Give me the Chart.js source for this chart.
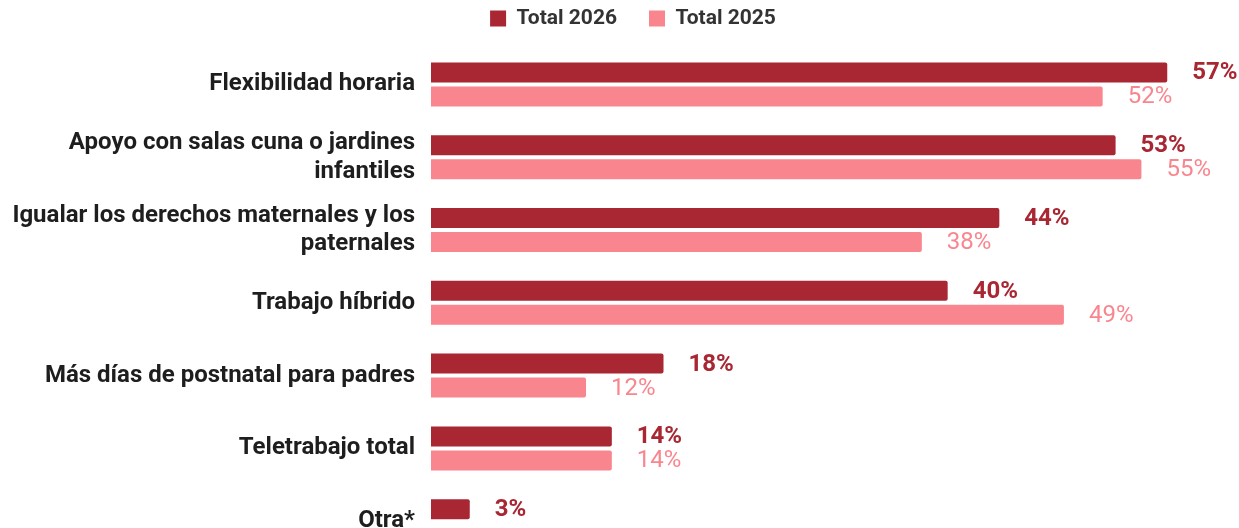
<!DOCTYPE html>
<html>
<head>
<meta charset="utf-8">
<script src="https://cdn.jsdelivr.net/npm/chart.js@4.4.1/dist/chart.umd.min.js"></script>
<style>
  html, body { margin: 0; padding: 0; background: #ffffff; overflow: hidden; }
  canvas { display: block; }
</style>
</head>
<body>
<canvas id="chart" width="1239" height="580"></canvas>
<script>
const categories = [
  'Flexibilidad horaria',
  ['Apoyo con salas cuna o jardines', 'infantiles'],
  ['Igualar los derechos maternales y los', 'paternales'],
  'Trabajo híbrido',
  'Más días de postnatal para padres',
  'Teletrabajo total',
  'Otra*'
];
const total2026 = [57, 53, 44, 40, 18, 14, 3];
const total2025 = [52, 55, 38, 49, 12, 14, null];
const seriesNames = ['Total 2026', 'Total 2025'];

const darkRed = '#A82733';
const pink = '#F9868E';

// Percentage labels written just past the end of each bar
const valueLabels = {
  id: 'valueLabels',
  afterDatasetsDraw(chart) {
    const ctx = chart.ctx;
    ctx.save();
    chart.data.datasets.forEach((ds, di) => {
      const meta = chart.getDatasetMeta(di);
      meta.data.forEach((bar, i) => {
        const v = ds.data[i];
        if (v === null || v === undefined) return;
        ctx.font = (di === 0 ? 'bold ' : 'normal ') + '24px Roboto';
        ctx.fillStyle = di === 0 ? darkRed : pink;
        ctx.textAlign = 'left';
        ctx.textBaseline = 'middle';
        ctx.fillText(v + '%', bar.x + 25, bar.y + 1);
      });
    });
    ctx.restore();
  }
};

// Legend block: fixed height, centred a little right of the canvas middle
const legendPlacement = {
  id: 'legendPlacement',
  beforeInit(chart) {
    const legend = chart.legend;
    if (!legend) return;
    const fit = legend.fit;
    legend.fit = function () {
      fit.call(this);
      this.height = 72;
    };
  },
  afterLayout(chart) {
    const legend = chart.legend;
    if (!legend) return;
    legend.left += 30;
    legend.right += 30;
  }
};

new Chart(document.getElementById('chart'), {
  type: 'bar',
  data: {
    labels: categories,
    datasets: [
      { label: seriesNames[0], data: total2026, backgroundColor: darkRed, borderRadius: 2,
        barPercentage: 0.833, categoryPercentage: 0.66 },
      { label: seriesNames[1], data: total2025, backgroundColor: pink, borderRadius: 2,
        barPercentage: 0.833, categoryPercentage: 0.66 }
    ]
  },
  options: {
    indexAxis: 'y',
    responsive: false,
    animation: false,
    layout: { padding: { top: -24, right: 33, bottom: 0, left: 0 } },
    plugins: {
      legend: {
        position: 'top',
        labels: {
          boxWidth: 16,
          boxHeight: 16,
          padding: 32,
          color: '#333333',
          font: { family: 'Roboto', size: 21, weight: 'bold' }
        }
      },
      tooltip: { enabled: false }
    },
    scales: {
      x: {
        display: false,
        min: 0,
        max: 60
      },
      y: {
        grid: { display: false },
        border: { display: false },
        afterFit(scale) { scale.width = 431; },
        ticks: {
          padding: 8,
          color: '#1e1e1e',
          font: { family: 'Roboto', size: 24, weight: 'bold', lineHeight: 1.2 }
        }
      }
    }
  },
  plugins: [valueLabels, legendPlacement]
});
</script>
</body>
</html>
